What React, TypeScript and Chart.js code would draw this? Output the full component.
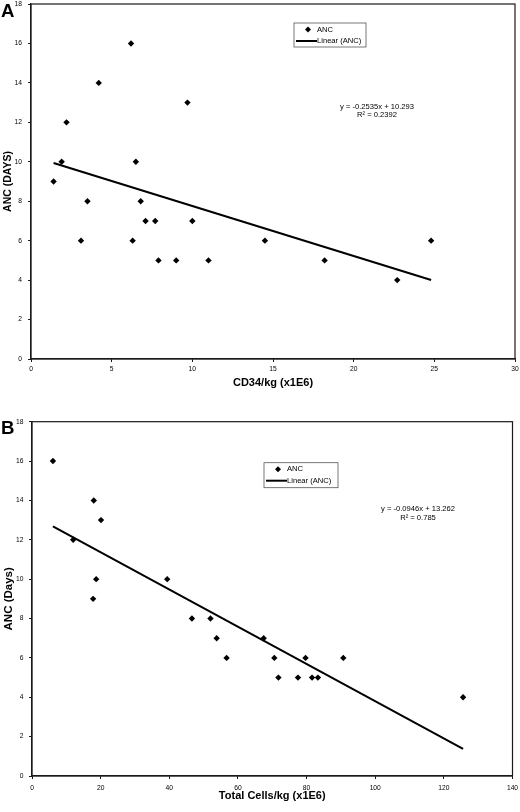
import { useEffect, useRef } from "react"
import { Chart, registerables } from "chart.js"

Chart.register(...registerables)

// Panel A: CD34 dose vs days to ANC recovery
const cd34Dose = [1.4, 1.9, 2.2, 3.1, 3.5, 4.2, 6.2, 6.3, 6.5, 6.8, 7.1, 7.7, 7.9, 9.0, 9.7, 10.0, 11.0, 14.5, 18.2, 22.7, 24.8]
const ancDaysA = [9, 10, 12, 6, 8, 14, 16, 6, 10, 8, 7, 7, 5, 5, 13, 7, 5, 6, 5, 4, 6]
const slopeA = -0.2535
const interceptA = 10.293
const r2A = "0.2392"

// Panel B: total cell dose vs days to ANC recovery
const totalCellDose = [6.1, 12.0, 17.8, 18.0, 18.7, 20.1, 39.4, 46.6, 52.0, 53.8, 56.7, 67.5, 70.6, 71.8, 77.5, 79.7, 81.6, 83.3, 90.7, 125.6]
const ancDaysB = [16, 12, 9, 14, 10, 13, 10, 8, 8, 7, 6, 7, 6, 5, 5, 6, 5, 5, 6, 4]
const slopeB = -0.0946
const interceptB = 13.262
const r2B = "0.785"

const FONT = "'Liberation Sans', Arial, sans-serif"

// box around the plot, legend box and trend equation
const framePlugin = {
  id: "frame",
  afterDatasetsDraw(chart: any, _args: any, opts: any) {
    const { ctx, chartArea: a } = chart
    ctx.save()
    ctx.strokeStyle = "#1a1a1a"
    ctx.lineWidth = 1.2
    ctx.strokeRect(a.left, a.top, a.right - a.left, a.bottom - a.top)

    // legend
    const lx = a.left + opts.legend.x
    const ly = a.top + opts.legend.y
    ctx.fillStyle = "#fff"
    ctx.fillRect(lx, ly, opts.legend.w, opts.legend.h)
    ctx.strokeStyle = "#555"
    ctx.lineWidth = 0.8
    ctx.strokeRect(lx, ly, opts.legend.w, opts.legend.h)
    ctx.fillStyle = "#000"
    const dx = lx + 14
    const dy = ly + 6.5
    ctx.beginPath()
    ctx.moveTo(dx, dy - 3)
    ctx.lineTo(dx + 3, dy)
    ctx.lineTo(dx, dy + 3)
    ctx.lineTo(dx - 3, dy)
    ctx.closePath()
    ctx.fill()
    ctx.strokeStyle = "#000"
    ctx.lineWidth = 2
    ctx.beginPath()
    ctx.moveTo(lx + 2, ly + 18)
    ctx.lineTo(lx + 23, ly + 18)
    ctx.stroke()
    ctx.font = `7.6px ${FONT}`
    ctx.textBaseline = "middle"
    ctx.textAlign = "left"
    ctx.fillText("ANC", lx + 23, dy)
    ctx.fillText("Linear (ANC)", lx + 23, ly + 18)

    // equation
    const ex = a.left + opts.eq.x
    const ey = a.top + opts.eq.y
    ctx.textAlign = "center"
    ctx.fillText(opts.eq.line1, ex, ey)
    ctx.fillText(opts.eq.line2, ex, ey + 8.6)
    ctx.restore()
  },
}

interface PanelProps {
  xs: number[]
  ys: number[]
  slope: number
  intercept: number
  r2: string
  xMax: number
  xStep: number
  xTitle: string
  yTitle: string
  yTitleSize: number
  width: number
  height: number
  area: { left: number; top: number; right: number; bottom: number }
  tickPad: number
  yTickPad: number
  xTitlePad: number
  legendPos: { x: number; y: number; w: number; h: number }
  eqPos: { x: number; y: number }
}

function ScatterPanel(p: PanelProps) {
  const canvasRef = useRef<HTMLCanvasElement>(null)
  const chartRef = useRef<Chart | null>(null)

  useEffect(() => {
    if (!canvasRef.current) return
    const x0 = Math.min(...p.xs)
    const x1 = Math.max(...p.xs)
    const trend = [
      { x: x0, y: p.slope * x0 + p.intercept },
      { x: x1, y: p.slope * x1 + p.intercept },
    ]
    const tickFont = { family: FONT, size: 6.7 }

    chartRef.current = new Chart(canvasRef.current, {
      type: "scatter",
      data: {
        datasets: [
          {
            label: "ANC",
            data: p.xs.map((x, i) => ({ x, y: p.ys[i] })),
            pointStyle: "rectRot",
            pointRadius: 3.2,
            backgroundColor: "#000",
            borderColor: "#000",
            borderWidth: 0,
          },
          {
            label: "Linear (ANC)",
            data: trend,
            showLine: true,
            pointRadius: 0,
            borderColor: "#000",
            borderWidth: 2,
          },
        ],
      },
      options: {
        responsive: false,
        animation: false,
        layout: {
          padding: { left: 0, top: p.area.top, right: p.width - p.area.right, bottom: 0 },
        },
        plugins: {
          legend: { display: false },
          tooltip: { enabled: false },
          frame: {
            legend: p.legendPos,
            eq: {
              x: p.eqPos.x,
              y: p.eqPos.y,
              line1: `y = ${p.slope}x + ${p.intercept}`,
              line2: `R² = ${p.r2}`,
            },
          },
        } as any,
        scales: {
          x: {
            type: "linear",
            min: 0,
            max: p.xMax,
            ticks: { stepSize: p.xStep, color: "#000", font: tickFont, padding: p.tickPad, maxRotation: 0 },
            grid: { drawOnChartArea: false, tickLength: 3, color: "#1a1a1a" },
            border: { color: "#1a1a1a", width: 1.2 },
            title: {
              display: true,
              text: p.xTitle,
              color: "#000",
              font: { family: FONT, size: 11, weight: "bold" },
              padding: { top: 0, bottom: p.xTitlePad },
            },
            afterFit: (s: any) => {
              s.height = p.height - p.area.bottom
              s.paddingLeft = 0
              s.paddingRight = 0
            },
          },
          y: {
            type: "linear",
            min: 0,
            max: 18,
            ticks: { stepSize: 2, color: "#000", font: tickFont, padding: p.yTickPad },
            grid: { drawOnChartArea: false, tickLength: 3, color: "#1a1a1a" },
            border: { color: "#1a1a1a", width: 1.2 },
            title: {
              display: true,
              text: p.yTitle,
              color: "#000",
              font: { family: FONT, size: p.yTitleSize, weight: "bold" },
              padding: { top: 1.5, bottom: 0 },
            },
            afterFit: (s: any) => {
              s.width = p.area.left
              s.paddingTop = 0
              s.paddingBottom = 0
            },
          },
        },
      },
      plugins: [framePlugin],
    })

    return () => {
      chartRef.current?.destroy()
      chartRef.current = null
    }
  }, [])

  return <canvas ref={canvasRef} width={p.width} height={p.height} style={{ display: "block" }} />
}

const letterStyle: React.CSSProperties = {
  position: "absolute",
  left: 1,
  fontFamily: FONT,
  fontWeight: "bold",
  fontSize: 18.6,
  lineHeight: 1,
  color: "#000",
}

export default function App() {
  return (
    <div style={{ position: "absolute", left: 0, top: 0, width: 520, height: 812, background: "#fff", overflow: "hidden" }}>
      <div style={{ position: "absolute", left: 0, top: 0 }}>
        <ScatterPanel
          xs={cd34Dose}
          ys={ancDaysA}
          slope={slopeA}
          intercept={interceptA}
          r2={r2A}
          xMax={30}
          xStep={5}
          xTitle="CD34/kg (x1E6)"
          yTitle="ANC (DAYS)"
          yTitleSize={10.5}
          width={520}
          height={395}
          area={{ left: 31, top: 3, right: 515, bottom: 359 }}
          tickPad={3}
          yTickPad={6}
          xTitlePad={5}
          legendPos={{ x: 263, y: 19, w: 72, h: 24 }}
          eqPos={{ x: 346, y: 102.7 }}
        />
      </div>
      <div style={{ ...letterStyle, top: 1.6 }}>A</div>
      <div style={{ position: "absolute", left: 0, top: 400 }}>
        <ScatterPanel
          xs={totalCellDose}
          ys={ancDaysB}
          slope={slopeB}
          intercept={interceptB}
          r2={r2B}
          xMax={140}
          xStep={20}
          xTitle="Total Cells/kg (x1E6)"
          yTitle="ANC (Days)"
          yTitleSize={11.5}
          width={520}
          height={412}
          area={{ left: 32, top: 21.7, right: 512.5, bottom: 376 }}
          tickPad={5}
          yTickPad={5.5}
          xTitlePad={9}
          legendPos={{ x: 232, y: 41, w: 74, h: 25 }}
          eqPos={{ x: 386, y: 87.3 }}
        />
      </div>
      <div style={{ ...letterStyle, top: 419.3 }}>B</div>
    </div>
  )
}
